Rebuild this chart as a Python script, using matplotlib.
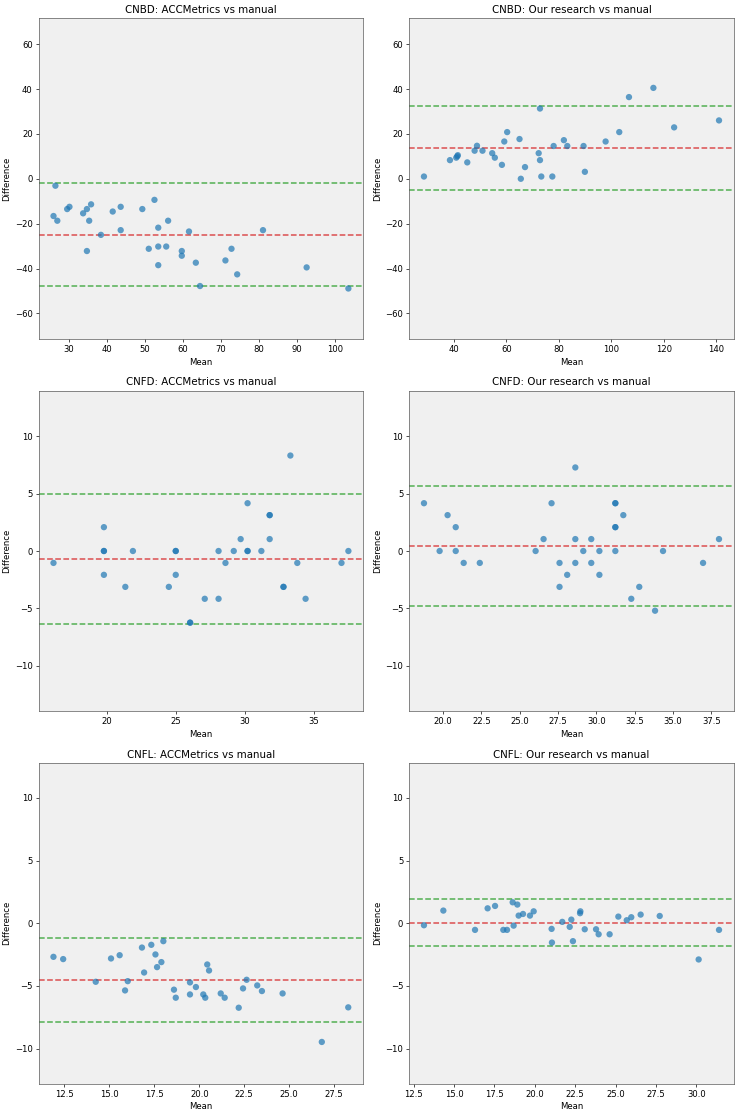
import matplotlib
matplotlib.use("Agg")
import matplotlib.pyplot as plt
import numpy as np

# ---------------- data ----------------
cnbd_acc_mean = [25.9, 26.4, 26.9, 29.5, 30.1, 33.7, 34.7, 35.8, 35.3, 34.7, 38.4,
                 41.5, 43.6, 43.6, 49.3, 52.5, 51.0, 53.5, 53.5, 53.5, 55.6, 56.1,
                 59.7, 59.7, 61.6, 63.4, 64.5, 71.2, 72.8, 74.3, 81.1, 92.6, 103.6]
cnbd_acc_diff = [-16.6, -3.1, -18.7, -13.5, -12.5, -15.4, -13.5, -11.4, -18.7, -32.2, -25.0,
                 -14.6, -12.5, -22.9, -13.5, -9.4, -31.2, -21.8, -30.2, -38.5, -30.2, -18.7,
                 -32.2, -34.3, -23.5, -37.4, -47.8, -36.4, -31.2, -42.6, -22.9, -39.5, -48.9]

cnbd_our_mean = [28.6, 38.5, 40.9, 41.3, 41.5, 45.1, 47.9, 48.8, 50.9, 54.6, 55.6,
                 58.3, 59.2, 60.3, 65.0, 65.5, 67.1, 72.3, 72.8, 72.8, 73.3, 77.5,
                 78.0, 81.9, 83.2, 89.4, 89.9, 97.8, 103.0, 106.7, 116.0, 123.9, 141.0]
cnbd_our_diff = [1.0, 8.3, 9.4, 10.0, 10.5, 7.3, 12.5, 14.7, 12.5, 11.4, 9.4,
                 6.2, 16.6, 20.8, 17.7, 0.0, 5.2, 11.4, 31.3, 8.3, 1.0, 1.0,
                 14.6, 17.2, 14.6, 14.6, 3.1, 16.6, 20.8, 36.4, 40.5, 22.9, 26.0]

cnfd_acc_mean = [16.15, 19.8, 19.8, 19.8, 19.8, 21.35, 21.9, 24.5, 25.0, 25.0, 25.0,
                 26.04, 26.04, 27.1, 28.1, 28.1, 28.6, 29.2, 29.7, 30.2, 30.2, 30.2,
                 31.2, 31.8, 31.8, 31.8, 32.8, 32.8, 33.3, 33.8, 34.4, 37.0, 37.5]
cnfd_acc_diff = [-1.04, 2.08, 0.0, 0.0, -2.08, -3.13, 0.0, -3.13, 0.0, 0.0, -2.08,
                 -6.25, -6.25, -4.17, 0.0, -4.17, -1.04, 0.0, 1.04, 4.17, 0.0, 0.0,
                 0.0, 3.13, 3.13, 1.04, -3.13, -3.13, 8.33, -1.04, -4.17, -1.04, 0.0]

cnfd_our_mean = [18.76, 19.78, 20.3, 20.83, 20.83, 21.35, 22.4, 26.04, 26.56, 27.08, 27.6,
                 27.6, 28.1, 28.63, 28.63, 28.63, 29.15, 29.67, 29.67, 30.2, 30.2, 31.24,
                 31.24, 31.24, 31.24, 31.24, 31.76, 32.28, 32.8, 33.83, 34.35, 36.96, 38.0]
cnfd_our_diff = [4.17, 0.0, 3.13, 2.08, 0.0, -1.04, -1.04, 0.0, 1.04, 4.17, -1.04,
                 -3.13, -2.08, 7.29, 1.04, -1.04, 0.0, 1.04, -1.04, 0.0, -2.08, 4.17,
                 4.17, 2.08, 2.08, 0.0, 3.13, -4.17, -3.13, -5.21, 0.0, -1.04, 1.04]

cnfl_acc_mean = [11.89, 12.43, 14.24, 15.09, 15.57, 15.87, 16.02, 16.81, 16.93, 17.33, 17.56,
                 17.65, 17.89, 18.0, 18.59, 18.69, 19.48, 19.48, 19.81, 20.22, 20.33, 20.44,
                 20.54, 21.19, 21.41, 22.19, 22.43, 22.63, 23.22, 23.48, 24.63, 26.81, 28.28]
cnfl_acc_diff = [-2.68, -2.86, -4.67, -2.81, -2.55, -5.36, -4.62, -1.94, -3.93, -1.72, -2.49,
                 -3.50, -3.10, -1.43, -5.30, -5.94, -4.72, -5.68, -5.09, -5.68, -5.94, -3.29,
                 -3.77, -5.60, -5.94, -6.74, -5.20, -4.51, -4.96, -5.41, -5.60, -9.47, -6.71]

cnfl_our_mean = [13.14, 14.34, 16.3, 17.08, 17.54, 18.05, 18.28, 18.63, 18.69, 18.92, 19.0,
                 19.27, 19.7, 19.93, 21.04, 21.06, 21.7, 22.16, 22.26, 22.36, 22.8, 22.82,
                 23.09, 23.79, 23.95, 24.63, 25.17, 25.69, 25.97, 26.55, 27.73, 30.14, 31.4]
cnfl_our_diff = [-0.16, 1.01, -0.53, 1.19, 1.38, -0.53, -0.53, 1.67, -0.19, 1.49, 0.61,
                 0.74, 0.61, 0.95, -0.45, -1.54, 0.11, -0.29, 0.29, -1.43, 0.8, 0.95,
                 -0.48, -0.48, -0.88, -0.88, 0.53, 0.24, 0.48, 0.69, 0.58, -2.89, -0.53]

titles = ["CNBD: ACCMetrics vs manual", "CNBD: Our research vs manual",
          "CNFD: ACCMetrics vs manual", "CNFD: Our research vs manual",
          "CNFL: ACCMetrics vs manual", "CNFL: Our research vs manual"]

# bias and limits of agreement (mean, upper, lower)
bias = [-25.0, 13.8, -0.67, 0.44, -4.51, 0.05]
loa_upper = [-2.1, 32.5, 5.0, 5.64, -1.19, 1.96]
loa_lower = [-47.7, -5.0, -6.4, -4.77, -7.85, -1.83]

ylims = [71.5, 71.5, 14.0, 14.0, 12.8, 12.8]
xlims = [(22.0, 107.5), (23.0, 146.6), (15.08, 38.57), (17.8, 38.96), (11.07, 29.11), (12.23, 32.31)]

means = [cnbd_acc_mean, cnbd_our_mean, cnfd_acc_mean, cnfd_our_mean, cnfl_acc_mean, cnfl_our_mean]
diffs = [cnbd_acc_diff, cnbd_our_diff, cnfd_acc_diff, cnfd_our_diff, cnfl_acc_diff, cnfl_our_diff]

# ---------------- plot ----------------
dpi = 61.33
fig, axes = plt.subplots(3, 2, figsize=(736 / dpi, 1110 / dpi), dpi=dpi)
fig.subplots_adjust(left=0.0526, right=0.9969, top=0.9835, bottom=0.0237,
                    wspace=0.142, hspace=0.16)

for i, ax in enumerate(axes.flat):
    ax.set_facecolor("#f0f0f0")
    ax.scatter(means[i], diffs[i], s=55, color="#1f77b4", alpha=0.7, edgecolors="none", zorder=3)
    ax.axhline(bias[i], color="#d62728", linestyle="--", linewidth=1.8, alpha=0.8, zorder=2)
    ax.axhline(loa_upper[i], color="#2ca02c", linestyle="--", linewidth=1.8, alpha=0.8, zorder=2)
    ax.axhline(loa_lower[i], color="#2ca02c", linestyle="--", linewidth=1.8, alpha=0.8, zorder=2)
    ax.set_ylim(-ylims[i], ylims[i])
    ax.set_xlim(*xlims[i])
    ax.set_title(titles[i], fontsize=12)
    ax.set_xlabel("Mean", fontsize=10)
    ax.set_ylabel("Difference", fontsize=10)
    ax.tick_params(labelsize=10)
    for sp in ax.spines.values():
        sp.set_color("#555555")

fig.savefig("out.png", dpi=dpi)
